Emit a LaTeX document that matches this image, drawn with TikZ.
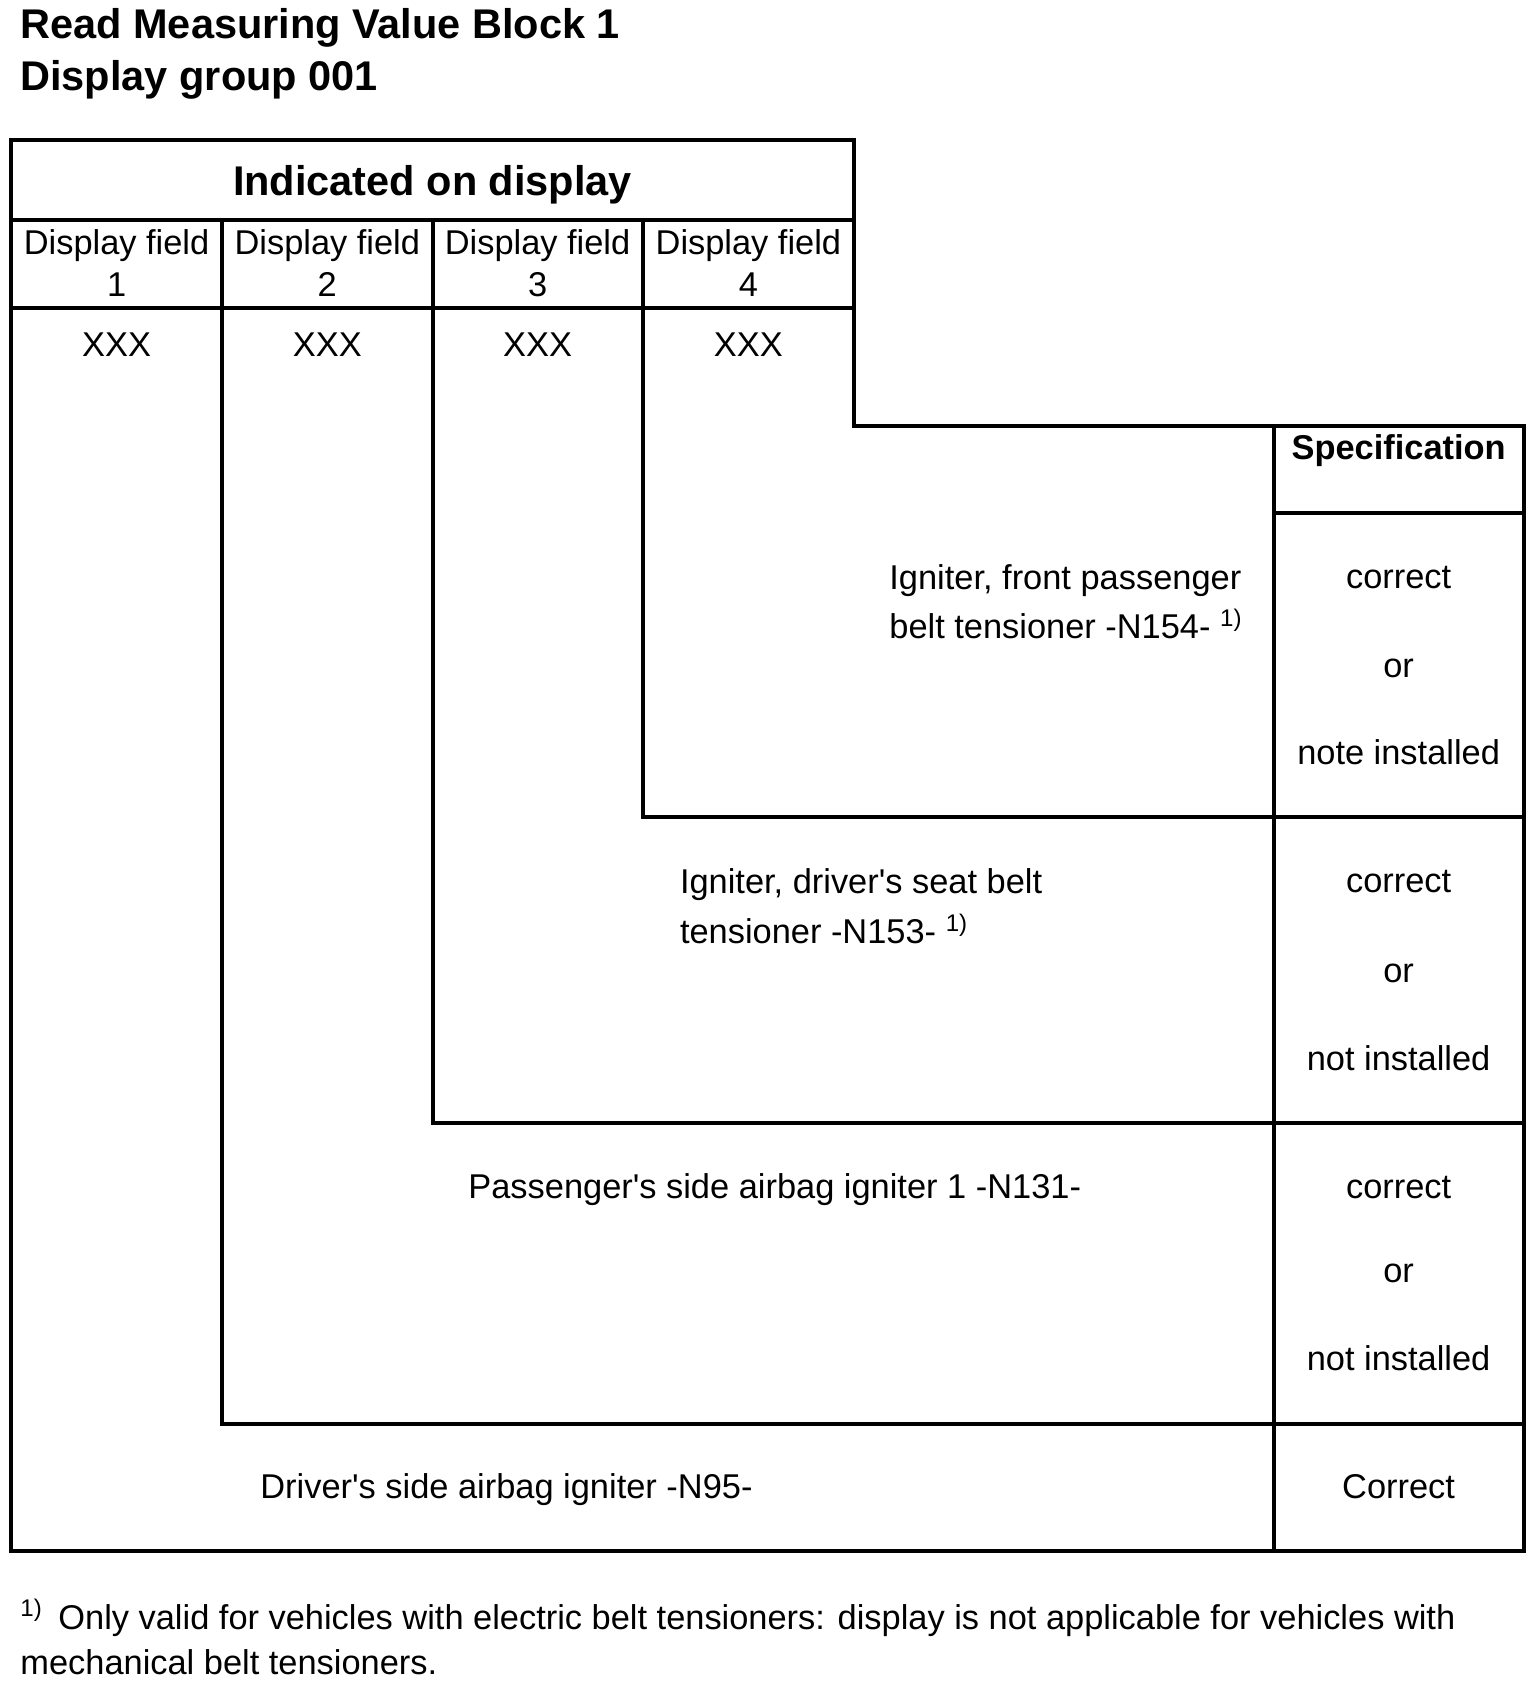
\documentclass[tikz,border=0pt]{standalone}
\usepackage{fontspec}
\setmainfont{Liberation Sans}
\usepackage{tikz}
\tikzstyle{rule} = [line width=2pt]
\tikzstyle{txt} = [inner sep=0pt, anchor=base, font=\fontsize{17.2}{20}\selectfont]
\tikzstyle{lefttxt} = [txt, anchor=base west]
\tikzstyle{head} = [inner sep=0pt, anchor=base, font=\bfseries\fontsize{20.75}{24}\selectfont]
\tikzstyle{spechead} = [inner sep=0pt, anchor=base, font=\bfseries\fontsize{17.2}{20}\selectfont]

\begin{document}
\begin{tikzpicture}[x=0.5pt,y=-0.5pt]
        \useasboundingbox (0,0) rectangle (1536,1700);
        % Title
        \node[head, anchor=base west] (title) at (20,39) {Read Measuring Value Block 1};
        \node[head, anchor=base west] (group) at (20,90.7) {Display group 001};

        % Table rules
        \draw[rule] (11,140.5) -- (854,140.5) -- (854,426.5) -- (1523.6,426.5) -- (1523.6,1550.6) -- (11,1550.6) -- cycle;
        \draw[rule] (11,220.2) -- (854,220.2);
        \draw[rule] (11,308) -- (854,308);
        \draw[rule] (222,220.2) -- (222,1424) -- (1523.6,1424);
        \draw[rule] (432.5,220.2) -- (432.5,1123) -- (1523.6,1123);
        \draw[rule] (643,220.2) -- (643,817) -- (1523.6,817);
        \draw[rule] (1273.5,426.5) -- (1273.5,1550.6);
        \draw[rule] (1273.5,513.2) -- (1523.6,513.2);

        % Display fields
        \node[head] (indicated) at (432.5,195.3) {Indicated on display};
        \foreach \i/\x in {1/116.6,2/327.3,3/537.6,4/748.4} {
            \node[txt] (field\i) at (\x,254.1) {Display field};
            \node[txt] (num\i) at (\x,297) {\i};
            \node[txt] (val\i) at (\x,356.7) {XXX};
        }

        % Components
        \node[lefttxt] (n154a) at (889,589) {Igniter, front passenger};
        \node[lefttxt] (n154b) at (889,638.8) {belt tensioner -N154- \textsuperscript{1)}};
        \node[lefttxt] (n153a) at (679.6,893.9) {Igniter, driver\textquotesingle s seat belt};
        \node[lefttxt] (n153b) at (679.6,943.7) {tensioner -N153- \textsuperscript{1)}};
        \node[lefttxt] (n131) at (468,1198.8) {Passenger\textquotesingle s side airbag igniter 1 -N131-};
        \node[lefttxt] (n95) at (260,1498.7) {Driver\textquotesingle s side airbag igniter -N95-};

        % Specification
        \node[spechead] (spec) at (1398.6,459.4) {Specification};
        \foreach \y/\t [count=\n] in {588/correct, 677.6/or, 764.3/note installed,
                892.9/correct, 982.5/or, 1070/not installed,
                1198/correct, 1282.5/or, 1370/not installed, 1498.7/Correct} {
            \node[txt] (spec\n) at (1398.6,\y) {\t};
        }

        % Footnote
        \node[lefttxt] (fnmark) at (20,1629.5) {\textsuperscript{1)}};
        \node[lefttxt] (fn1) at (58,1629.5) {Only valid for vehicles with electric belt tensioners: display is not applicable for vehicles with};
        \node[lefttxt] (fn2) at (20,1674.5) {mechanical belt tensioners.};
\end{tikzpicture}
\end{document}
